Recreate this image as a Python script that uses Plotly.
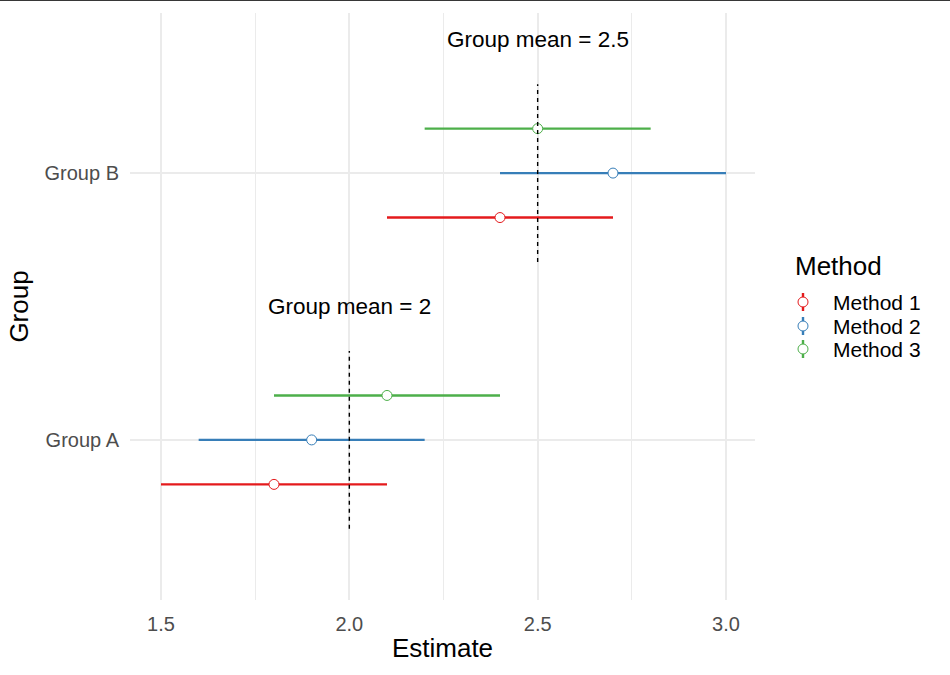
import plotly.graph_objects as go

groups = ["Group A", "Group B"]
methods = ["Method 1", "Method 2", "Method 3"]
colors = ["#E41A1C", "#377EB8", "#4DAF4A"]
# estimates[method][group]
estimates = [[1.8, 2.4], [1.9, 2.7], [2.1, 2.5]]
lower = [[1.5, 2.1], [1.6, 2.4], [1.8, 2.2]]
upper = [[2.1, 2.7], [2.2, 3.0], [2.4, 2.8]]
group_means = [2.0, 2.5]
dodge_offsets = [-1/6, 0.0, 1/6]

FONT = "Liberation Sans, Arial, sans-serif"
W, H = 950, 675
ML, MR, MT, MB = 130, 0, 13, 75
plot_right = 755
paper_w = W - ML - MR
dom_main = (plot_right - ML) / paper_w

fig = go.Figure()

# point ranges
for mi, m in enumerate(methods):
    for gi, g in enumerate(groups):
        ypos = gi + 1 + dodge_offsets[mi]
        fig.add_trace(go.Scatter(
            x=[lower[mi][gi], upper[mi][gi]], y=[ypos, ypos], mode="lines",
            line=dict(color=colors[mi], width=2.4), showlegend=False, hoverinfo="skip"))
    fig.add_trace(go.Scatter(
        x=estimates[mi], y=[gi + 1 + dodge_offsets[mi] for gi in range(len(groups))],
        mode="markers", marker=dict(size=10, color="white", line=dict(color=colors[mi], width=1)),
        showlegend=False, name=m))

# mean lines and labels
for gi, gm in enumerate(group_means):
    fig.add_trace(go.Scatter(
        x=[gm, gm], y=[gi + 1 - 1/3, gi + 1 + 1/3], mode="lines",
        line=dict(color="black", width=1.4, dash="4px,4px"), showlegend=False, hoverinfo="skip"))
    lbl = f"{gm:g}"
    fig.add_annotation(x=gm, y=gi + 1.5, text=f"Group mean = {lbl}", showarrow=False,
                       font=dict(family=FONT, size=22.5, color="black"), xanchor="center", yanchor="middle")

# custom legend on auxiliary axes (pixel coords)
leg_x0 = ML + dom_main * paper_w + 5
fig.update_layout(
    xaxis2=dict(domain=[dom_main + 5 / paper_w, 1.0], range=[leg_x0, W], visible=False, fixedrange=True),
    yaxis2=dict(domain=[0, 1], range=[H - MB, MT], visible=False, anchor="x2", fixedrange=True),
)
leg_ys = [302, 326, 349]
for mi, m in enumerate(methods):
    fig.add_trace(go.Scatter(x=[803, 803], y=[leg_ys[mi] - 9, leg_ys[mi] + 9], mode="lines",
                             line=dict(color=colors[mi], width=2.4), xaxis="x2", yaxis="y2",
                             showlegend=False, hoverinfo="skip"))
    fig.add_trace(go.Scatter(x=[803], y=[leg_ys[mi]], mode="markers",
                             marker=dict(size=10, color="white", line=dict(color=colors[mi], width=1)),
                             xaxis="x2", yaxis="y2", showlegend=False, hoverinfo="skip"))
    fig.add_annotation(x=831, y=leg_ys[mi], xref="x2", yref="y2", text=m, showarrow=False,
                       xanchor="left", yanchor="middle", font=dict(family=FONT, size=21, color="black"))
fig.add_annotation(x=793, y=266, xref="x2", yref="y2", text="Method", showarrow=False,
                   xanchor="left", yanchor="middle", font=dict(family=FONT, size=26, color="black"))

fig.update_layout(
    width=W, height=H,
    margin=dict(l=ML, r=MR, t=MT, b=MB),
    plot_bgcolor="white", paper_bgcolor="white",
    showlegend=False,
    font=dict(family=FONT),
    xaxis=dict(domain=[0, dom_main], range=[1.4177, 3.077], tickvals=[1.5, 2.0, 2.5, 3.0],
               ticktext=["1.5", "2.0", "2.5", "3.0"], showgrid=True, gridcolor="#ebebeb", gridwidth=2,
               zeroline=False, showline=False, ticks="", ticklabelstandoff=10,
               tickfont=dict(family=FONT, size=20, color="#4d4d4d"),
               minor=dict(tickvals=[1.75, 2.25, 2.75], showgrid=True, gridcolor="#ebebeb", gridwidth=1, ticks=""),
               title=dict(text="Estimate", font=dict(family=FONT, size=26, color="black"), standoff=4)),
    yaxis=dict(range=[0.4, 2.6], tickvals=[1, 2], ticktext=groups, showgrid=True, gridcolor="#ebebeb",
               gridwidth=2, zeroline=False, showline=False, ticks="", ticklabelstandoff=10,
               tickfont=dict(family=FONT, size=20, color="#4d4d4d"),
               title=dict(text="Group", font=dict(family=FONT, size=26, color="black"), standoff=8)),
)

fig.add_shape(type="line", xref="paper", yref="paper", x0=-ML / paper_w, x1=1, y0=1 + MT / (H - MT - MB) - 0.0005,
              y1=1 + MT / (H - MT - MB) - 0.0005, line=dict(color="black", width=1))

fig.write_html("out.html")
